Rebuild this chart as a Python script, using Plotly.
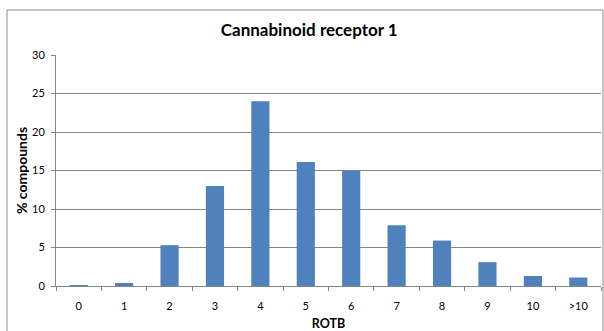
import plotly.graph_objects as go

# ROTB categories and % compounds
rotb = ["0", "1", "2", "3", "4", "5", "6", "7", "8", "9", "10", ">10"]
pct_compounds = [0.1, 0.4, 5.3, 13.0, 24.0, 16.1, 15.0, 7.9, 5.9, 3.1, 1.3, 1.1]

W, H = 604, 331
ml, mr, mt, mb = 56, 3, 55, 45
pw, ph = W - ml - mr, H - mt - mb

fig = go.Figure()
fig.add_trace(go.Bar(
    x=rotb,
    y=pct_compounds,
    marker=dict(color="#4F81BD", line=dict(width=0)),
    width=0.4,
))

# outer chart border (Excel style)
fig.add_shape(
    type="rect", xref="paper", yref="paper",
    x0=(7 - ml) / pw, x1=(603 - ml) / pw,
    y0=-0.4, y1=(H - mb - 10) / ph,
    line=dict(color="#8C8C8C", width=1), layer="below",
)

fig.update_layout(
    width=W, height=H,
    margin=dict(l=ml, r=mr, t=mt, b=mb, autoexpand=False),
    paper_bgcolor="white", plot_bgcolor="white",
    font=dict(family="Lato, 'Open Sans', sans-serif", color="black", size=11),
    title=dict(text="<b>Cannabinoid receptor 1</b>", x=0.512, xanchor="center",
               y=0.908, yanchor="middle", font=dict(size=17)),
    showlegend=False,
)

fig.update_xaxes(
    type="category", automargin=False,
    showline=True, linecolor="#868686", linewidth=1,
    ticks="outside", tickson="boundaries", ticklen=4, tickcolor="#868686",
    ticklabelstandoff=10,
    showgrid=False,
    title=dict(text="<b>ROTB</b>", font=dict(size=12.5), standoff=9),
)
fig.update_yaxes(
    range=[0, 30], dtick=5, automargin=False,
    showline=True, linecolor="#868686", linewidth=1,
    ticks="outside", ticklen=4, tickcolor="#868686",
    ticklabelstandoff=4,
    showgrid=True, gridcolor="#868686", gridwidth=1,
    zeroline=False,
    title=dict(text="<b>% compounds</b>", font=dict(size=14), standoff=1),
)

# drop the default page margin so the figure sits at the window's corner
fig.write_html("out.html", config={"displayModeBar": False},
               post_script="document.body.style.margin='0';")
